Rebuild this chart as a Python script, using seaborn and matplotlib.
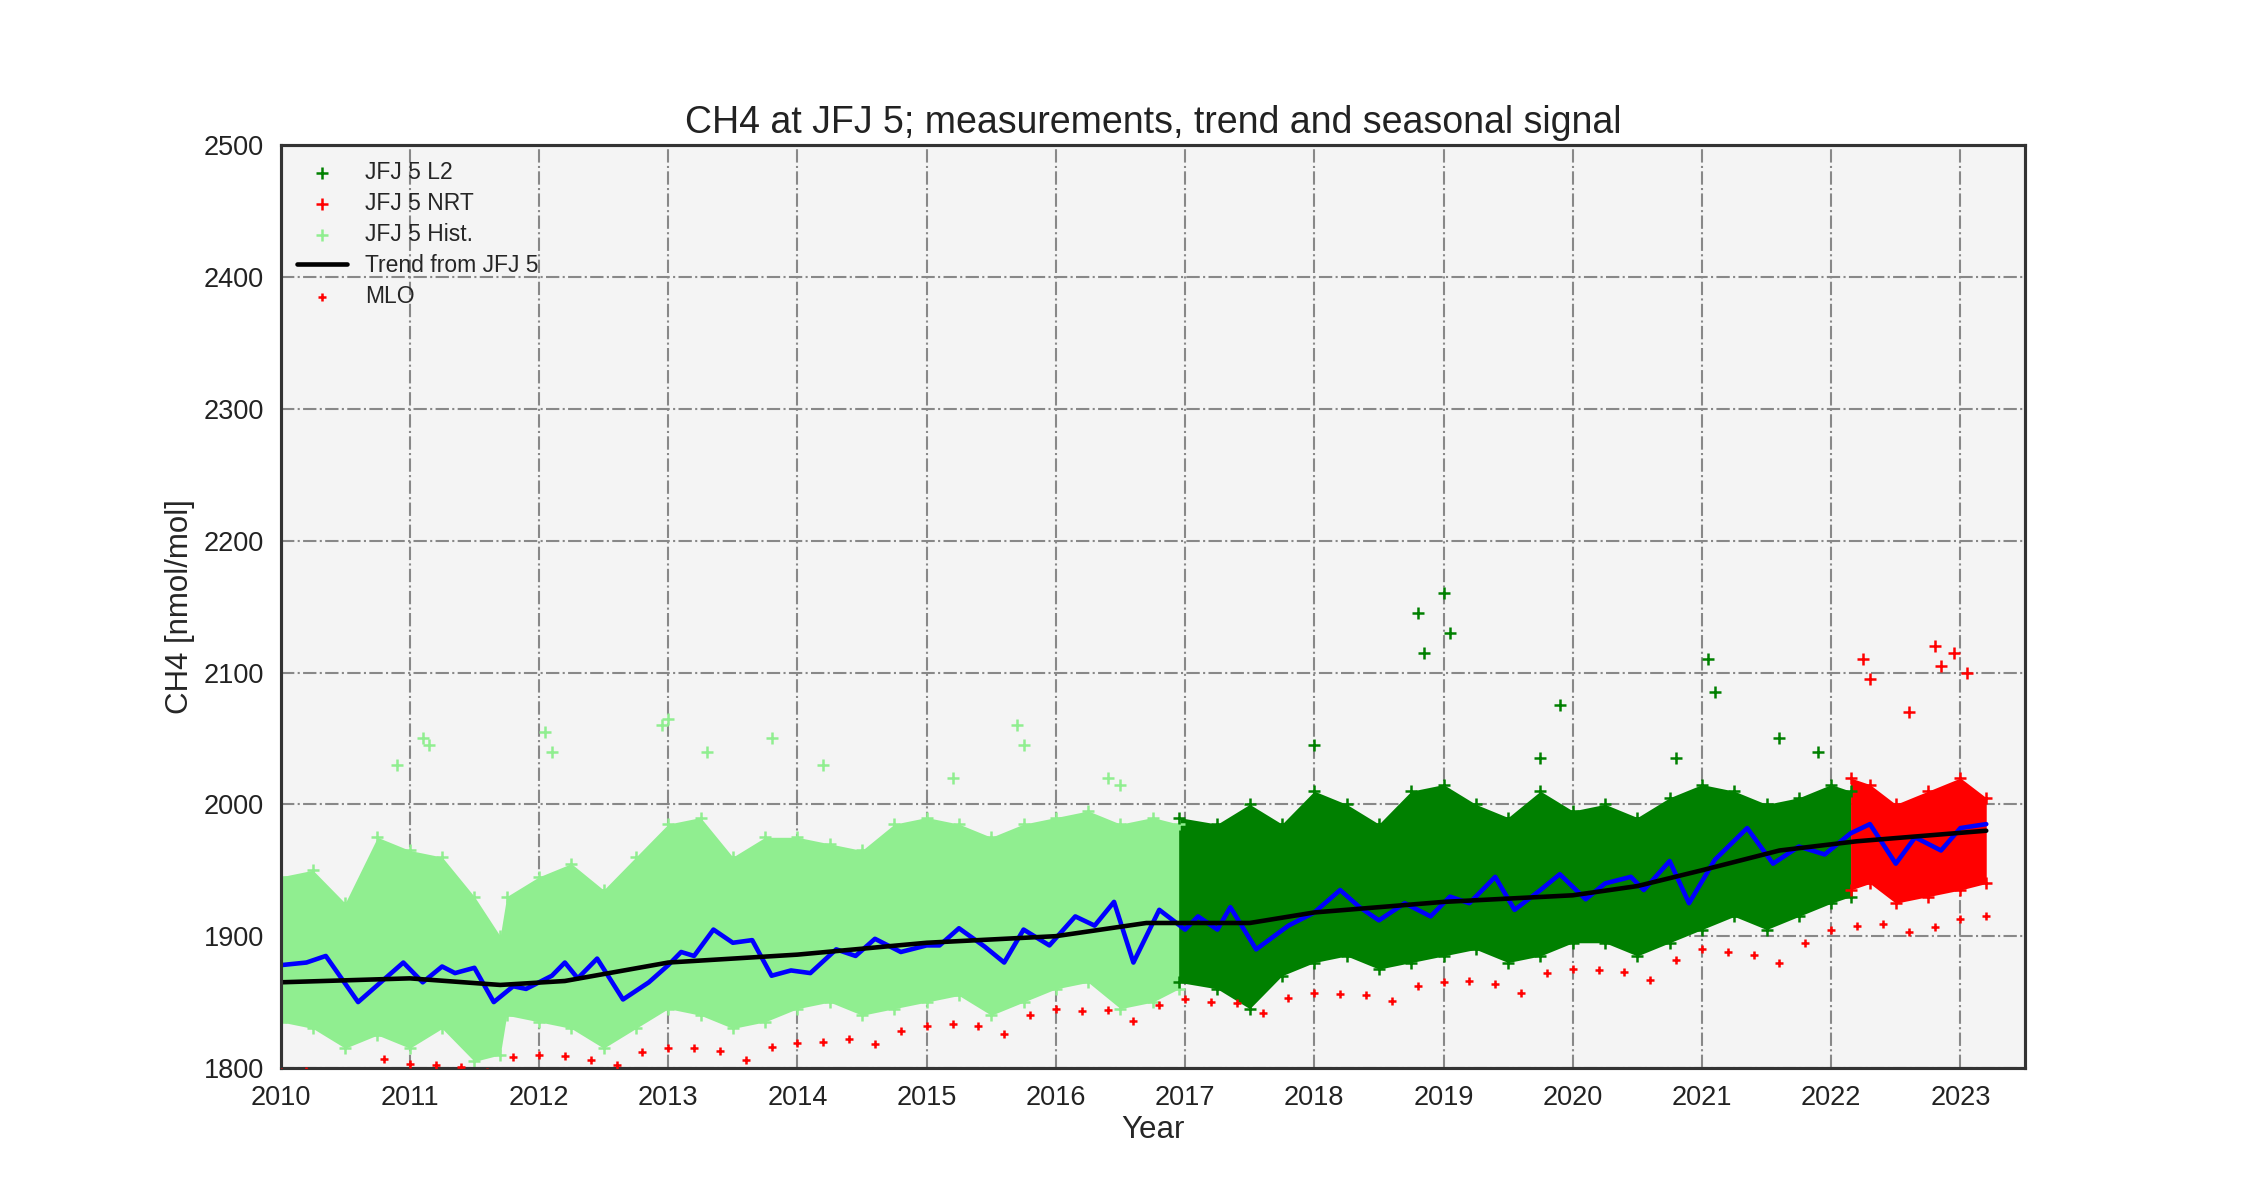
import numpy as np
import pandas as pd
import matplotlib
matplotlib.use("Agg")
import matplotlib.pyplot as plt
import seaborn as sns

# ---- data ----
hist_t = [2010.0,2010.25,2010.5,2010.75,2011.0,2011.25,2011.5,2011.7,2011.75,2012.0,2012.25,2012.5,2012.75,2013.0,2013.25,2013.5,2013.75,2014.0,2014.25,2014.5,2014.75,2015.0,2015.25,2015.5,2015.75,2016.0,2016.25,2016.5,2016.75,2016.95]
hist_lo = [1835,1830,1815,1825,1815,1830,1805,1810,1840,1835,1830,1815,1830,1845,1840,1830,1835,1845,1850,1840,1845,1850,1855,1840,1850,1860,1865,1845,1850,1860]
hist_hi = [1945,1950,1925,1975,1965,1960,1930,1900,1930,1945,1955,1935,1960,1985,1990,1960,1975,1975,1970,1965,1985,1990,1985,1975,1985,1990,1995,1985,1990,1985]
l2_t = [2016.95,2017.25,2017.5,2017.75,2018.0,2018.25,2018.5,2018.75,2019.0,2019.25,2019.5,2019.75,2020.0,2020.25,2020.5,2020.75,2021.0,2021.25,2021.5,2021.75,2022.0,2022.15]
l2_lo = [1865,1860,1845,1870,1880,1885,1875,1880,1885,1890,1880,1885,1895,1895,1885,1895,1905,1915,1905,1915,1925,1930]
l2_hi = [1990,1985,2000,1985,2010,2000,1985,2010,2015,2000,1990,2010,1995,2000,1990,2005,2015,2010,2000,2005,2015,2010]
nrt_t = [2022.15,2022.3,2022.5,2022.75,2023.0,2023.2]
nrt_lo = [1935,1940,1925,1930,1935,1940]
nrt_hi = [2020,2015,2000,2010,2020,2005]
spk_hist_t = [2010.9,2011.1,2011.15,2012.05,2012.1,2012.95,2013.0,2013.3,2013.8,2014.2,2015.2,2015.7,2015.75,2016.4,2016.5]
spk_hist_v = [2030,2050,2045,2055,2040,2060,2065,2040,2050,2030,2020,2060,2045,2020,2015]
spk_l2_t = [2018.0,2018.8,2018.85,2019.0,2019.05,2019.75,2019.9,2020.8,2021.05,2021.1,2021.6,2021.9]
spk_l2_v = [2045,2145,2115,2160,2130,2035,2075,2035,2110,2085,2050,2040]
spk_nrt_t = [2022.25,2022.3,2022.6,2022.8,2022.85,2022.95,2023.05]
spk_nrt_v = [2110,2095,2070,2120,2105,2115,2100]
tr_t = [2010.0,2011.0,2011.7,2012.2,2013.0,2014.0,2015.0,2016.0,2016.7,2017.5,2018.0,2019.0,2020.0,2020.5,2021.0,2021.6,2022.2,2023.2]
tr_v = [1865,1868,1863,1866,1880,1886,1895,1900,1910,1910,1918,1926,1931,1938,1950,1965,1972,1980]
sea_t = [2010.0,2010.2,2010.35,2010.6,2010.95,2011.1,2011.25,2011.35,2011.5,2011.65,2011.8,2011.9,2012.1,2012.2,2012.3,2012.45,2012.65,2012.85,2013.0,2013.1,2013.2,2013.35,2013.5,2013.65,2013.8,2013.95,2014.1,2014.3,2014.45,2014.6,2014.8,2015.0,2015.1,2015.25,2015.45,2015.6,2015.75,2015.95,2016.15,2016.3,2016.45,2016.6,2016.8,2017.0,2017.1,2017.25,2017.35,2017.55,2017.8,2018.0,2018.2,2018.35,2018.5,2018.7,2018.9,2019.05,2019.2,2019.4,2019.55,2019.75,2019.9,2020.1,2020.25,2020.45,2020.55,2020.75,2020.9,2021.1,2021.35,2021.55,2021.75,2021.95,2022.15,2022.3,2022.5,2022.65,2022.85,2023.0,2023.2]
sea_v = [1878,1880,1885,1850,1880,1865,1877,1872,1876,1850,1862,1860,1870,1880,1868,1883,1852,1865,1878,1888,1885,1905,1895,1897,1870,1874,1872,1890,1885,1898,1888,1893,1893,1906,1892,1880,1905,1893,1915,1908,1926,1880,1920,1905,1915,1905,1922,1890,1908,1918,1935,1922,1912,1925,1915,1930,1925,1945,1920,1935,1947,1928,1940,1945,1935,1957,1925,1958,1982,1955,1968,1962,1978,1985,1955,1975,1965,1982,1985]
mlo_t = [2010.0,2010.2,2010.4,2010.6,2010.8,2011.0,2011.2,2011.4,2011.6,2011.8,2012.0,2012.2,2012.4,2012.6,2012.8,2013.0,2013.2,2013.4,2013.6,2013.8,2014.0,2014.2,2014.4,2014.6,2014.8,2015.0,2015.2,2015.4,2015.6,2015.8,2016.0,2016.2,2016.4,2016.6,2016.8,2017.0,2017.2,2017.4,2017.6,2017.8,2018.0,2018.2,2018.4,2018.6,2018.8,2019.0,2019.2,2019.4,2019.6,2019.8,2020.0,2020.2,2020.4,2020.6,2020.8,2021.0,2021.2,2021.4,2021.6,2021.8,2022.0,2022.2,2022.4,2022.6,2022.8,2023.0,2023.2]
mlo_v = [1797,1798,1796,1795,1807,1803,1802,1801,1797,1808,1810,1809,1806,1802,1812,1815,1815,1813,1806,1816,1819,1820,1822,1818,1828,1832,1833,1832,1826,1840,1845,1843,1844,1836,1848,1852,1850,1849,1842,1853,1857,1856,1855,1851,1862,1865,1866,1864,1857,1872,1875,1874,1873,1867,1882,1890,1888,1886,1880,1895,1905,1908,1909,1903,1907,1913,1915]

# ---- plot ----
sns.set_theme(style="whitegrid")
plt.rcParams["font.family"] = "Liberation Sans"
fig = plt.figure(figsize=(15, 8), dpi=150)
ax = fig.add_axes([0.1247, 0.110, 0.7753, 0.769])
ax.set_facecolor("#f4f4f4")

lg, dg = "#90ee90", "#008000"
ax.fill_between(hist_t, hist_lo, hist_hi, color=lg, lw=0)
ax.fill_between(l2_t, l2_lo, l2_hi, color=dg, lw=0)
ax.fill_between(nrt_t, nrt_lo, nrt_hi, color="red", lw=0)
for t, lo, hi, c in [(hist_t, hist_lo, hist_hi, lg), (l2_t, l2_lo, l2_hi, dg), (nrt_t, nrt_lo, nrt_hi, "red")]:
    ax.scatter(t, lo, marker="+", s=30, color=c, lw=1.2)
    ax.scatter(t, hi, marker="+", s=30, color=c, lw=1.2)
ax.scatter(spk_l2_t, spk_l2_v, marker="+", s=30, color=dg, lw=1.2, label="JFJ 5 L2")
ax.scatter(spk_nrt_t, spk_nrt_v, marker="+", s=30, color="red", lw=1.2, label="JFJ 5 NRT")
ax.scatter(spk_hist_t, spk_hist_v, marker="+", s=30, color=lg, lw=1.2, label="JFJ 5 Hist.")
sns.lineplot(x=sea_t, y=sea_v, color="blue", lw=2.2, ax=ax)
sns.lineplot(x=tr_t, y=tr_v, color="black", lw=2.2, ax=ax, label="Trend from JFJ 5")
ax.scatter(mlo_t, mlo_v, marker="+", s=18, color="red", lw=1.2, label="MLO", zorder=5)

ax.set_xlim(2010, 2023.5)
ax.set_ylim(1800, 2500)
ax.set_xticks(range(2010, 2024))
ax.set_yticks(range(1800, 2501, 100))
ax.grid(True, color="#888888", ls="-.", lw=1)
for s in ax.spines.values():
    s.set_color("#333333"); s.set_linewidth(1.5)
ax.tick_params(labelsize=13, colors="#222222", pad=2)
ax.set_xlabel("Year", fontsize=15, labelpad=2)
ax.set_ylabel("CH4 [nmol/mol]", fontsize=15)
ax.set_title("CH4 at JFJ 5; measurements, trend and seasonal signal", fontsize=18, color="#222222")
leg = ax.legend(loc="upper left", frameon=False, fontsize=11, handlelength=2.2,
                labelspacing=0.35, borderaxespad=0.3)
fig.savefig("out.png", dpi=150)
